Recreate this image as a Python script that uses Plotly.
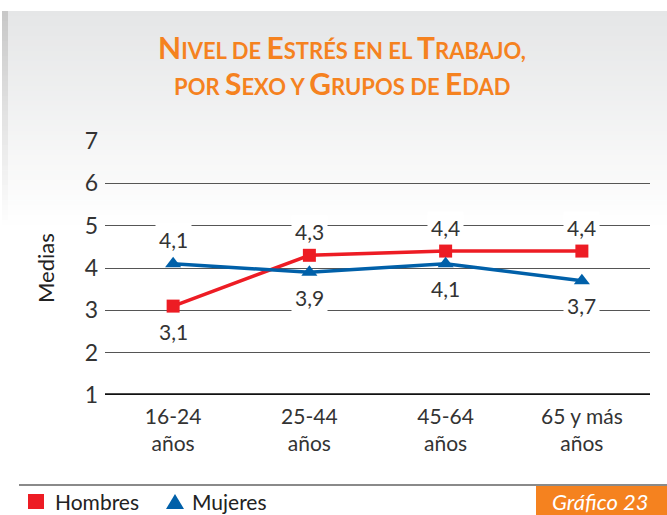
import plotly.graph_objects as go

# ---------------- data ----------------
categories = ["16-24<br>años", "25-44<br>años", "45-64<br>años", "65 y más<br>años"]
hombres = [3.1, 4.3, 4.4, 4.4]
mujeres = [4.1, 3.9, 4.1, 3.7]
hombres_labels = ["3,1", "4,3", "4,4", "4,4"]
mujeres_labels = ["4,1", "3,9", "4,1", "3,7"]
hombres_above = [False, True, True, True]
mujeres_above = [True, False, False, False]
y_ticks = [1, 2, 3, 4, 5, 6, 7]
title_lines = ["Nivel de Estrés en el Trabajo,", "por Sexo y Grupos de Edad"]
legend_names = ["Hombres", "Mujeres"]
badge_text = "Gráfico 23"

# ---------------- style ----------------
W, H = 667, 515
L, R, T, B = 105, 650, 141, 395
RED = "#ED1C24"
BLUE = "#0060A9"
ORANGE = "#F5821F"
FONT = "Lato, 'Open Sans', sans-serif"
TXT = "#333333"


def px(x):
    return (x - L) / (R - L)


def py(y):
    return (B - y) / (B - T)


def small_caps(s, big=30, small=22):
    out = []
    for ch in s:
        if ch.isupper():
            out.append(f'<span style="font-size:{big}px">{ch}</span>')
        elif ch.isalpha():
            out.append(f'<span style="font-size:{small}px">{ch.upper()}</span>')
        else:
            out.append(f'<span style="font-size:{small}px">{ch}</span>')
    return "".join(out)


fig = go.Figure()
fig.add_trace(go.Scatter(
    x=categories, y=hombres, mode="lines+markers", name=legend_names[0],
    line=dict(color=RED, width=3.5),
    marker=dict(symbol="square", size=13, color=RED), showlegend=False))
fig.add_trace(go.Scatter(
    x=categories, y=mujeres, mode="lines+markers", name=legend_names[1],
    line=dict(color=BLUE, width=3.5),
    marker=dict(symbol="triangle-up", size=14, color=BLUE), showlegend=False))

annotations = []
for cat, val, lab, above in zip(categories, hombres, hombres_labels, hombres_above):
    annotations.append(dict(x=cat, y=val, text=lab, showarrow=False,
                            yshift=24 if above else -25, bgcolor="white", borderpad=3,
                            font=dict(family=FONT, size=21, color=TXT)))
for cat, val, lab, above in zip(categories, mujeres, mujeres_labels, mujeres_above):
    annotations.append(dict(x=cat, y=val, text=lab, showarrow=False,
                            yshift=24 if above else -25, bgcolor="white", borderpad=3,
                            font=dict(family=FONT, size=21, color=TXT)))

# title
annotations.append(dict(xref="paper", yref="paper", x=px(342), y=py(47), text=small_caps(title_lines[0]),
                        showarrow=False, xanchor="center", yanchor="middle",
                        font=dict(family=FONT, color=ORANGE, weight=700)))
annotations.append(dict(xref="paper", yref="paper", x=px(342), y=py(83), text=small_caps(title_lines[1]),
                        showarrow=False, xanchor="center", yanchor="middle",
                        font=dict(family=FONT, color=ORANGE, weight=700)))
# y title
annotations.append(dict(xref="paper", yref="paper", x=px(45), y=py(268), text="Medias", textangle=-90,
                        showarrow=False, xanchor="center", yanchor="middle",
                        font=dict(family=FONT, size=22, color="#222")))
# legend texts
annotations.append(dict(xref="paper", yref="paper", x=px(53), y=py(501), text=legend_names[0],
                        showarrow=False, xanchor="left", yanchor="middle",
                        font=dict(family=FONT, size=21, color="#222")))
annotations.append(dict(xref="paper", yref="paper", x=px(190), y=py(501), text=legend_names[1],
                        showarrow=False, xanchor="left", yanchor="middle",
                        font=dict(family=FONT, size=21, color="#222")))
# badge text
annotations.append(dict(xref="paper", yref="paper", x=px(600), y=py(501), text=f"<i>{badge_text}</i>",
                        showarrow=False, xanchor="center", yanchor="middle",
                        font=dict(family=FONT, size=22, color="white")))

shapes = []
# background gradient card
top_c = (229, 230, 231)
y0, y1 = 11, 230
n = 44
for i in range(n):
    ya = y0 + (y1 - y0) * i / n
    yb = y0 + (y1 - y0) * (i + 1) / n + 0.6
    t = i / (n - 1)
    c = tuple(round(top_c[k] + (255 - top_c[k]) * t) for k in range(3))
    shapes.append(dict(type="rect", xref="paper", yref="paper", x0=px(8), x1=px(667),
                       y0=py(yb), y1=py(ya), fillcolor=f"rgb{c}", line=dict(width=0), layer="below"))
    # left shadow
    sc = tuple(round(200 + (255 - 200) * t) for _ in range(3))
    shapes.append(dict(type="rect", xref="paper", yref="paper", x0=px(2), x1=px(8),
                       y0=py(yb), y1=py(ya), fillcolor=f"rgb{sc}", line=dict(width=0), layer="below"))

# bottom grey rule
shapes.append(dict(type="line", xref="paper", yref="paper", x0=px(19), x1=px(667), y0=py(485), y1=py(485),
                   line=dict(color="#8a8a8a", width=2)))
# axis baseline
shapes.append(dict(type="line", xref="paper", yref="y", x0=0, x1=1, y0=1, y1=1,
                   line=dict(color="#111", width=3.5)))
# legend symbols
shapes.append(dict(type="rect", xref="paper", yref="paper", x0=px(28), x1=px(44), y0=py(509), y1=py(494),
                   fillcolor=RED, line=dict(width=0)))
shapes.append(dict(type="path", xref="paper", yref="paper",
                   path=f"M {px(166)},{py(509)} L {px(184)},{py(509)} L {px(175)},{py(494)} Z",
                   fillcolor=BLUE, line=dict(width=0)))
# badge
bx0, bx1, by0, by1, r = 536, 672, 486, 520, 6
shapes.append(dict(type="path", xref="paper", yref="paper",
                   path=(f"M {px(bx0)},{py(by0)} L {px(bx1)},{py(by0)} L {px(bx1)},{py(by1)} "
                         f"L {px(bx0 + r)},{py(by1)} Q {px(bx0)},{py(by1)} {px(bx0)},{py(by1 - r)} Z"),
                   fillcolor=ORANGE, line=dict(width=0)))

fig.update_layout(
    width=W, height=H,
    margin=dict(l=L, r=W - R, t=T, b=H - B),
    paper_bgcolor="white", plot_bgcolor="rgba(0,0,0,0)",
    showlegend=False,
    xaxis=dict(type="category", range=[-0.5, 3.5], showgrid=False, zeroline=False, showline=False,
               ticks="", tickfont=dict(family=FONT, size=21, color=TXT), ticklabelstandoff=7),
    yaxis=dict(range=[1, 7], tickvals=y_ticks, showgrid=True, gridcolor="#555", gridwidth=1.2,
               zeroline=False, showline=False, ticks="",
               tickfont=dict(family=FONT, size=23, color=TXT), ticklabelstandoff=6),
    annotations=annotations, shapes=shapes,
)

fig.write_html("out.html", config={"displayModeBar": False},
               post_script="document.body.style.margin='0';document.body.style.overflow='hidden';")
